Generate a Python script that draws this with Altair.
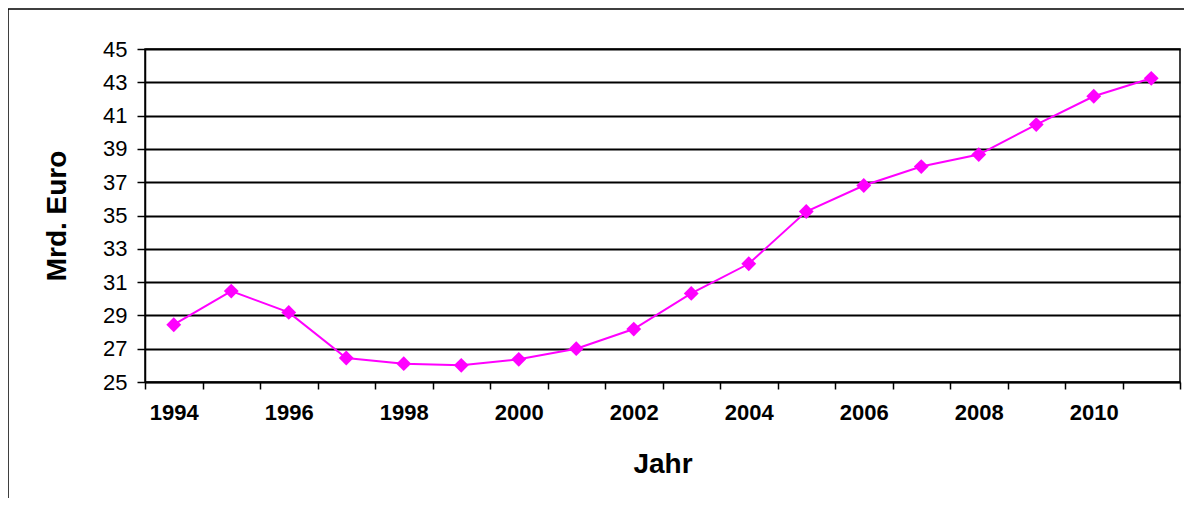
import altair as alt
import pandas as pd

years = list(range(1994, 2012))
values = [28.44, 30.46, 29.18, 26.44, 26.10, 26.00, 26.36, 27.00, 28.18,
          30.32, 32.10, 35.24, 36.80, 37.94, 38.66, 40.46, 42.16, 43.24]
y_ticks = [25, 27, 29, 31, 33, 35, 37, 39, 41, 43, 45]

df = pd.DataFrame({"Jahr": years, "Wert": values})

W, H = 1035, 333
FONT = "Liberation Sans"

x_enc = alt.X(
    "Jahr:O",
    bandPosition=0.5,
    scale=alt.Scale(type="band", paddingInner=0, paddingOuter=0),
    axis=alt.Axis(
        title="Jahr",
        labelAngle=0,
        labelExpr="datum.value % 2 == 0 ? datum.label : ''",
        tickBand="extent",
        labelFont=FONT, labelFontSize=22, labelFontWeight="bold", labelColor="black",
        labelPadding=13,
        titleFont=FONT, titleFontSize=28, titleFontWeight="bold", titleColor="black",
        titleX=W / 2, titleY=82, titleBaseline="middle", titleAlign="center",
        tickSize=7, tickColor="black", tickWidth=1.5,
        domainColor="black", domainWidth=1.5,
        grid=False,
    ),
)
y_enc = alt.Y(
    "Wert:Q",
    scale=alt.Scale(domain=[25, 45], nice=False, zero=False),
    axis=alt.Axis(
        title="Mrd. Euro",
        values=y_ticks,
        labelFont=FONT, labelFontSize=22, labelColor="black", labelPadding=10,
        titleFont=FONT, titleFontSize=28, titleFontWeight="bold", titleColor="black",
        titleAngle=-90, titleX=-88, titleY=H / 2, titleAlign="center", titleBaseline="middle",
        tickSize=8, tickColor="black", tickWidth=1.5,
        domainColor="black", domainWidth=1.5,
        grid=True, gridColor="black", gridWidth=1.8,
    ),
)

line = alt.Chart(df).mark_line(
    color="#FF00FF", strokeWidth=2,
    point=alt.OverlayMarkDef(shape="diamond", size=220, color="#FF00FF", filled=True, opacity=1),
).encode(x=x_enc, y=y_enc)

frame = alt.Chart(pd.DataFrame({"a": [0]})).mark_rect(
    fillOpacity=0, stroke="black", strokeWidth=1.5
).encode(
    x=alt.value(-137), x2=alt.value(W + 40),
    y=alt.value(-40), y2=alt.value(H + 160),
)

chart = alt.layer(frame, line).properties(
    width=W, height=H,
    autosize=alt.AutoSizeParams(type="none"),
    padding={"left": 137, "top": 41, "right": 4, "bottom": 116},
    background="white",
).configure_view(stroke="black", strokeWidth=1.5)

chart.save("out.html", embed_options={"renderer": "svg", "actions": False})
